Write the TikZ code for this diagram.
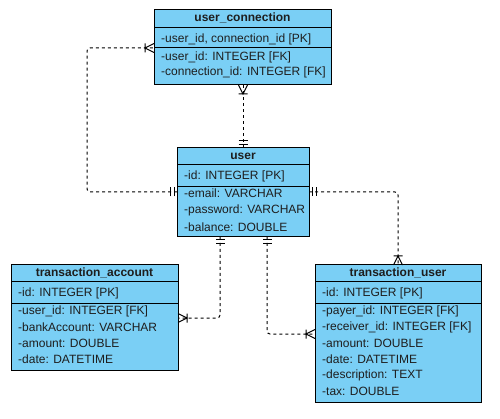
\documentclass[tikz,border=0pt]{standalone}
\usepackage{fontspec}
\setmainfont{Liberation Sans}
\usetikzlibrary{calc}
\definecolor{tbl}{RGB}{122,207,245}
\definecolor{txt}{RGB}{30,30,30}
\newcommand\mone[2]{\draw[mk,shift={(#1)},rotate=#2] (3,-4.5)--(3,4.5) (7,-4.5)--(7,4.5);}
\newcommand\mmany[2]{\draw[mk,shift={(#1)},rotate=#2] (0,-4.5)--(9,0)--(0,4.5) (9,-4.5)--(9,4.5);}
\begin{document}
\begin{tikzpicture}[x=1pt,y=-1pt,
 tbox/.style={draw=black,line width=1pt,fill=tbl,rectangle,inner sep=0,outer sep=0,anchor=north west},
 ttl/.style={font=\bfseries\fontsize{12}{14}\selectfont,inner sep=0,anchor=center,text=txt},
 fld/.style={font=\fontsize{12}{14}\selectfont,inner sep=0,anchor=west,text=txt},
 sepl/.style={line width=1pt},
 conn/.style={dash pattern=on 3pt off 3pt,line width=1pt,rounded corners=3pt},
 mk/.style={solid,line width=1pt}]
\useasboundingbox (0,0) rectangle (500,419);

% user_connection
\node[tbox,minimum width=177pt,minimum height=75pt] (uc) at (154,10) {};
\draw[sepl] ($(uc.north west)+(0,18)$) -- ($(uc.north east)+(0,18)$);
\draw[sepl] ($(uc.north west)+(0,38)$) -- ($(uc.north east)+(0,38)$);
\node[ttl] (uct) at ($(uc.north)+(0,8)$) {user\_connection};
\node[fld] (uc1) at (161,39) {-user\_id, connection\_id [PK]};
\node[fld] (uc2) at (161,57) {-user\_id: INTEGER [FK]};
\node[fld] (uc3) at (161,72) {-connection\_id: INTEGER [FK]};

% user
\node[tbox,minimum width=132pt,minimum height=89pt] (u) at (177,148) {};
\draw[sepl] ($(u.north west)+(0,17)$) -- ($(u.north east)+(0,17)$);
\draw[sepl] ($(u.north west)+(0,39)$) -- ($(u.north east)+(0,39)$);
\node[ttl] (ut) at ($(u.north)+(0,8)$) {user};
\node[fld] (u1) at (184,176) {-id: INTEGER [PK]};
\node[fld] (u2) at (184,193) {-email: VARCHAR};
\node[fld] (u3) at (184,210.5) {-password: VARCHAR};
\node[fld] (u4) at (184,227) {-balance: DOUBLE};

% transaction_account
\node[tbox,minimum width=167pt,minimum height=105pt] (ta) at (11,265) {};
\draw[sepl] ($(ta.north west)+(0,17)$) -- ($(ta.north east)+(0,17)$);
\draw[sepl] ($(ta.north west)+(0,38)$) -- ($(ta.north east)+(0,38)$);
\node[ttl] (tat) at ($(ta.north)+(0,8)$) {transaction\_account};
\node[fld] (ta1) at (18,293) {-id: INTEGER [PK]};
\node[fld] (ta2) at (18,311.5) {-user\_id: INTEGER [FK]};
\node[fld] (ta3) at (18,327.5) {-bankAccount: VARCHAR};
\node[fld] (ta4) at (18,343.5) {-amount: DOUBLE};
\node[fld] (ta5) at (18,359.3) {-date: DATETIME};

% transaction_user
\node[tbox,minimum width=166pt,minimum height=137pt] (tu) at (315,265) {};
\draw[sepl] ($(tu.north west)+(0,17)$) -- ($(tu.north east)+(0,17)$);
\draw[sepl] ($(tu.north west)+(0,38)$) -- ($(tu.north east)+(0,38)$);
\node[ttl] (tut) at ($(tu.north)+(0,8)$) {transaction\_user};
\node[fld] (tu1) at (322,293) {-id: INTEGER [PK]};
\node[fld] (tu2) at (322,311.5) {-payer\_id: INTEGER [FK]};
\node[fld] (tu3) at (322,327.5) {-receiver\_id: INTEGER [FK]};
\node[fld] (tu4) at (322,343.5) {-amount: DOUBLE};
\node[fld] (tu5) at (322,359.5) {-date: DATETIME};
\node[fld] (tu6) at (322,375.5) {-description: TEXT};
\node[fld] (tu7) at (322,391.5) {-tax: DOUBLE};

% connector end points
\coordinate (uL) at (u.west |- 0,192);
\coordinate (ucL) at (uc.west |- 0,48);
\coordinate (uT) at (243,148);
\coordinate (ucB) at (243,85);
\coordinate (uR) at (u.east |- 0,192);
\coordinate (tuT) at (398,265);
\coordinate (uB1) at (220,237);
\coordinate (taR) at (ta.east |- 0,318);
\coordinate (uB2) at (267,237);
\coordinate (tuL) at (tu.west |- 0,334);

% connectors
\draw[conn] (uL) -- ++(-90,0) |- (ucL);
\draw[conn] (uT) -- (ucB);
\draw[conn] (uR) -| (tuT);
\draw[conn] (uB1) |- (taR);
\draw[conn] (uB2) |- (tuL);

% markers
\mone{uL}{180}
\mmany{ucL}{180}
\mone{uT}{90}
\mmany{ucB}{270}
\mone{uR}{0}
\mmany{tuT}{90}
\mone{uB1}{270}
\mmany{taR}{0}
\mone{uB2}{270}
\mmany{tuL}{180}
\end{tikzpicture}
\end{document}
